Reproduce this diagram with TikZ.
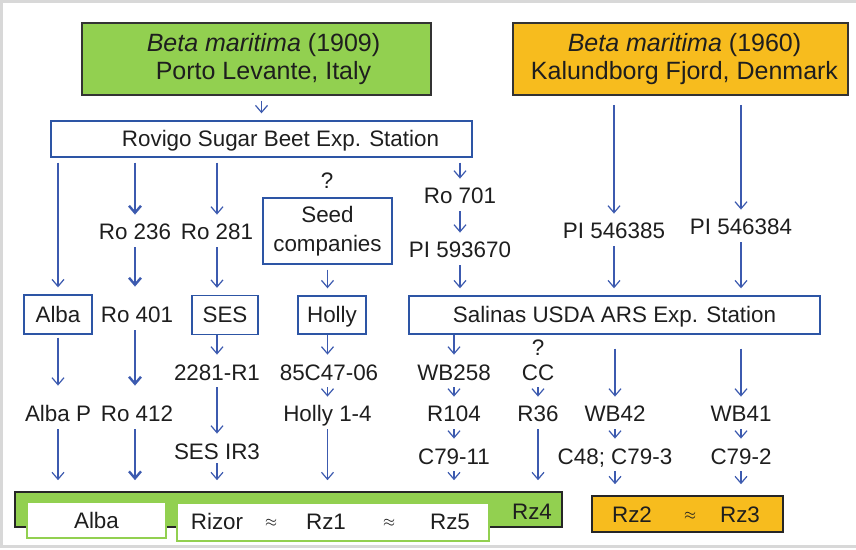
\documentclass[tikz,border=0pt]{standalone}
\usepackage{fontspec}
\setmainfont{Liberation Sans}
\usepackage{xcolor}
\usepackage{tikz}
\usetikzlibrary{arrows.meta, positioning, calc}
\definecolor{beetgreen}{RGB}{146, 208, 80}
\definecolor{beetorange}{RGB}{247, 188, 30}
\definecolor{linkblue}{RGB}{60, 90, 175}
\definecolor{boxblue}{RGB}{45, 85, 165}
\definecolor{framegray}{RGB}{216, 216, 216}
\definecolor{inkgray}{RGB}{30, 30, 30}

\begin{document}
\begin{tikzpicture}[x=0.5pt, y=-0.5pt, >={Straight Barb[length=3.5pt, width=6pt]},
  every node/.style={text=inkgray, font=\fontsize{11.2}{13.5}\selectfont},
  srcbox/.style={draw=black!80, line width=0.8pt, align=center, inner sep=0pt, font=\fontsize{12.5}{14}\selectfont},
  bluebox/.style={draw=boxblue, line width=0.7pt, inner sep=0pt},
  capbox/.style={bluebox, text height=8pt, text depth=0pt},
  lbl/.style={inner sep=1pt, text height=8pt, text depth=0pt},
  rzbox/.style={draw=beetgreen, line width=1pt, fill=white, inner sep=0pt},
  barbox/.style={draw=black!85, line width=0.8pt, inner sep=0pt},
  apx/.style={inner sep=0pt, font=\scriptsize},
  arr/.style={->, draw=linkblue, line width=0.6pt, shorten <=2.5pt, shorten >=3.5pt},
  fatarr/.style={arr, line width=1.2pt},
  tobar/.style={shorten >=5.5pt}]

        \useasboundingbox (0,0) rectangle (856,550);
        \draw[framegray, line width=1.4pt] (1.5,1.3) rectangle (880,546.5);

        % Wild sources
        \node[srcbox, fill=beetgreen, minimum width=174.5pt, minimum height=36pt] (italy) at (256.5,59) {\hspace*{7pt}\textit{Beta maritima} (1909)\\\hspace*{7pt}Porto Levante, Italy};
        \node[srcbox, fill=beetorange, minimum width=167.5pt, minimum height=36pt] (denmark) at (680.5,59) {\hspace*{4pt}\textit{Beta maritima} (1960)\\\hspace*{4pt}Kalundborg Fjord, Denmark};

        % Stations
        \node[capbox, minimum width=210.5pt, minimum height=18pt] (rovigo) at (261.5,139) {\hspace*{19pt}Rovigo Sugar Beet Exp. Station};
        \node[capbox, minimum width=205.5pt, minimum height=19pt] (salinas) at (614.5,315) {Salinas USDA ARS Exp. Station};

        % Rovigo lines
        \node[capbox, minimum width=34pt, minimum height=19.5pt] (alba) at (58,314.5) {Alba};
        \node[lbl] (albap) at (58,414) {Alba P};
        \node[lbl] (ro236) at (135,232) {Ro 236};
        \node[lbl] (ro401) at (137,315) {Ro 401};
        \node[lbl] (ro412) at (137,414) {Ro 412};
        \node[lbl] (ro281) at (217,232) {Ro 281};
        \node[capbox, minimum width=33pt, minimum height=19.5pt] (ses) at (225,315) {SES};
        \node[lbl] (r2281) at (217,372) {2281-R1};
        \node[lbl] (sesir3) at (217,451) {SES IR3};
        \node[lbl] (qseed) at (327,181) {?};
        \node[bluebox, align=center, minimum width=64.5pt, minimum height=33pt, font=\fontsize{11.2}{14.5}\selectfont] (seed) at (327.5,231) {Seed\\companies};
        \node[capbox, minimum width=34pt, minimum height=19pt] (holly) at (332,315) {Holly};
        \node[lbl] (h8506) at (329,372) {85C47-06};
        \node[lbl] (holly14) at (327.5,414) {Holly 1-4};
        \node[lbl] (ro701) at (460,196) {Ro 701};
        \node[lbl] (pi593) at (460,250) {PI 593670};

        % Salinas lines
        \node[lbl] (pi385) at (614,231) {PI 546385};
        \node[lbl] (pi384) at (741,227) {PI 546384};
        \node[lbl] (wb258) at (454,372) {WB258};
        \node[lbl] (r104) at (454,414) {R104};
        \node[lbl] (c7911) at (454,456) {C79-11};
        \node[lbl] (qcc) at (538,348) {?};
        \node[lbl] (cc) at (538,372) {CC};
        \node[lbl] (r36) at (538,414) {R36};
        \node[lbl] (wb42) at (615,414) {WB42};
        \node[lbl] (c48) at (615,456) {C48; C79-3};
        \node[lbl] (wb41) at (741,414) {WB41};
        \node[lbl] (c792) at (741,456) {C79-2};

        % Cultivars
        \node[barbox, fill=beetgreen, minimum width=273.5pt, minimum height=17.5pt] (greenbar) at (288.5,509.5) {};
        \node[lbl] (rz4) at (532,511) {Rz4};
        \node[rzbox, minimum width=69.5pt, minimum height=18pt] (albacv) at (96.5,520) {Alba};
        \node[rzbox, minimum width=156pt, minimum height=19pt] (rizorbox) at (333,522) {};
        \node[lbl] (rizor) at (217,521) {Rizor};
        \node[apx] (apx1) at (271,523) {$\approx$};
        \node[lbl] (rz1) at (326,521) {Rz1};
        \node[apx] (apx2) at (389,523) {$\approx$};
        \node[lbl] (rz5) at (450,521) {Rz5};
        \node[barbox, fill=beetorange, minimum width=95.5pt, minimum height=18pt] (orangebar) at (687.5,514) {};
        \node[lbl] (rz2) at (632,514) {Rz2};
        \node[apx] (apx3) at (690,516) {$\approx$};
        \node[lbl] (rz3) at (740,514) {Rz3};

        % Italian arrows
        \draw[arr] (italy.south -| rovigo) -- (rovigo);
        \draw[arr] (rovigo.south -| alba) -- (alba);
        \draw[arr, shorten <=1.5pt, shorten >=9pt] (alba) -- (albap);
        \draw[arr, tobar] (albap) -- (albap |- greenbar.north);
        \draw[fatarr] (rovigo.south -| ro236) -- (ro236);
        \draw[fatarr, shorten >=9pt] (ro236) -- (ro236 |- ro401.north);
        \draw[fatarr, shorten >=9pt] (ro236 |- ro401.south) -- (ro236 |- ro412.north);
        \draw[fatarr, tobar] (ro236 |- ro412.south) -- (ro236 |- greenbar.north);
        \draw[arr] (rovigo.south -| ro281) -- (ro281);
        \draw[arr] (ro281) -- (ro281 |- ses.north);
        \draw[arr, shorten <=0pt] (ses.south -| ro281) -- (r2281);
        \draw[arr] (r2281) -- (sesir3);
        \draw[arr, tobar, shorten <=1pt] (sesir3) -- (sesir3 |- greenbar.north);
        \draw[arr] (seed) -- (seed |- holly.north);
        \draw[arr, shorten <=0pt] (holly.south -| seed) -- (seed |- h8506.north);
        \draw[arr] (seed |- h8506.south) -- (holly14);
        \draw[arr, tobar] (holly14) -- (holly14 |- greenbar.north);
        \draw[arr] (rovigo.south -| ro701) -- (ro701);
        \draw[arr] (ro701) -- (pi593);
        \draw[arr] (pi593) -- (pi593 |- salinas.north);

        % Danish arrows
        \draw[arr, shorten <=4.5pt] (denmark.south -| pi385) -- (pi385);
        \draw[arr] (pi385) -- (pi385 |- salinas.north);
        \draw[arr, shorten <=4.5pt] (denmark.south -| pi384) -- (pi384);
        \draw[arr] (pi384) -- (pi384 |- salinas.north);

        % Salinas arrows
        \draw[arr, shorten <=0pt] (salinas.south -| wb258) -- (wb258);
        \draw[arr] (wb258) -- (r104);
        \draw[arr] (r104) -- (c7911);
        \draw[arr, tobar] (c7911) -- (c7911 |- greenbar.north);
        \draw[arr] (cc) -- (r36);
        \draw[arr, tobar] (r36) -- (r36 |- greenbar.north);
        \draw[arr, shorten <=7pt] (salinas.south -| wb42) -- (wb42);
        \draw[arr] (wb42) -- (c48);
        \draw[arr, tobar] (c48) -- (c48 |- orangebar.north);
        \draw[arr, shorten <=7pt] (salinas.south -| wb41) -- (wb41);
        \draw[arr] (wb41) -- (c792);
        \draw[arr, tobar] (c792) -- (c792 |- orangebar.north);
    \end{tikzpicture}
\end{document}
